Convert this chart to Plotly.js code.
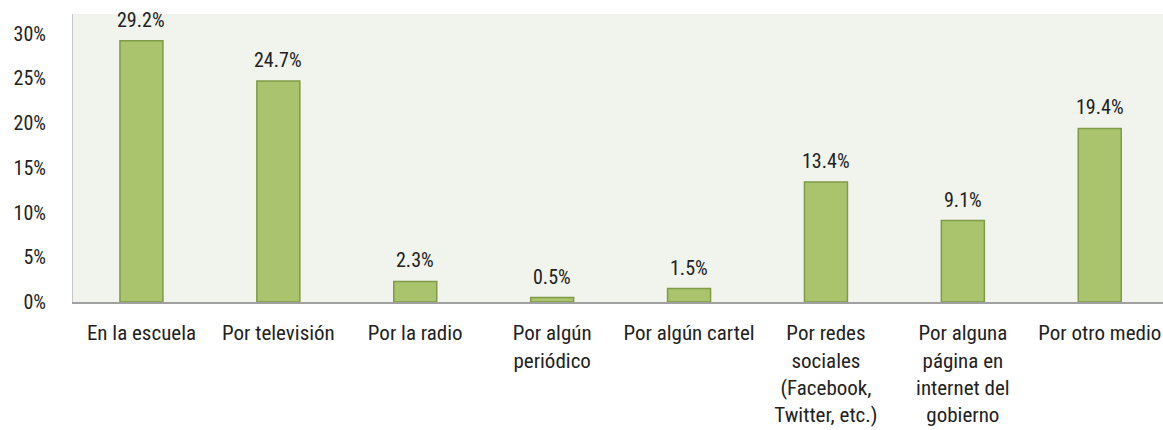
<!DOCTYPE html>
<html>
<head>
<meta charset="utf-8">
<script src="https://cdn.plot.ly/plotly-3.0.1.min.js"></script>
<style>html,body{margin:0;padding:0;background:#fff;}#chart{width:1163px;height:430px;}</style>
</head>
<body>
<div id="chart"></div>
<script>
const categories = [
  "En la escuela",
  "Por televisión",
  "Por la radio",
  "Por algún<br>periódico",
  "Por algún cartel",
  "Por redes<br>sociales<br>(Facebook,<br>Twitter, etc.)",
  "Por alguna<br>página en<br>internet del<br>gobierno",
  "Por otro medio"
];
const values = [29.2, 24.7, 2.3, 0.5, 1.5, 13.4, 9.1, 19.4];
const yTickVals = [0, 5, 10, 15, 20, 25, 30];
const yTickText = ["0%", "5%", "10%", "15%", "20%", "25%", "30%"];

const FONT = "'Liberation Sans Narrow', 'Roboto Condensed', 'DejaVu Sans Condensed', 'Liberation Sans', sans-serif";

const trace = {
  type: 'bar',
  x: categories.map((c, i) => i),
  y: values,
  width: 0.314,
  marker: {color: '#a9c46c', line: {color: '#7f9a48', width: 1.5}},
  hoverinfo: 'none'
};

const annotations = values.map((v, i) => ({
  x: i, y: v, xref: 'x', yref: 'y',
  text: v.toFixed(1) + '%',
  showarrow: false,
  yanchor: 'bottom',
  yshift: 7,
  font: {family: FONT, size: 20, color: '#222222'}
}));

const layout = {
  width: 1163, height: 430,
  margin: {l: 73, r: 0, t: 14, b: 128},
  paper_bgcolor: '#ffffff',
  plot_bgcolor: '#f1f3ed',
  showlegend: false,
  font: {family: FONT, size: 20, color: '#222222'},
  xaxis: {
    range: [-0.5, 7.462],
    tickvals: categories.map((c, i) => i),
    ticktext: categories,
    showgrid: false,
    zeroline: false,
    showline: true,
    linecolor: '#a0a0a0',
    linewidth: 2,
    ticks: '',
    ticklabelstandoff: 11,
    tickfont: {family: FONT, size: 21, color: '#222222'},
    fixedrange: true
  },
  yaxis: {
    range: [0, 32.18],
    tickvals: yTickVals,
    ticktext: yTickText,
    showgrid: false,
    zeroline: false,
    showline: true,
    linecolor: '#c8c8c8',
    linewidth: 1,
    ticks: '',
    ticklabelstandoff: 22,
    tickfont: {family: FONT, size: 20, color: '#222222'},
    fixedrange: true
  },
  annotations: annotations,
  bargap: 0
};

Plotly.newPlot('chart', [trace], layout, {displayModeBar: false, staticPlot: true});
</script>
</body>
</html>
